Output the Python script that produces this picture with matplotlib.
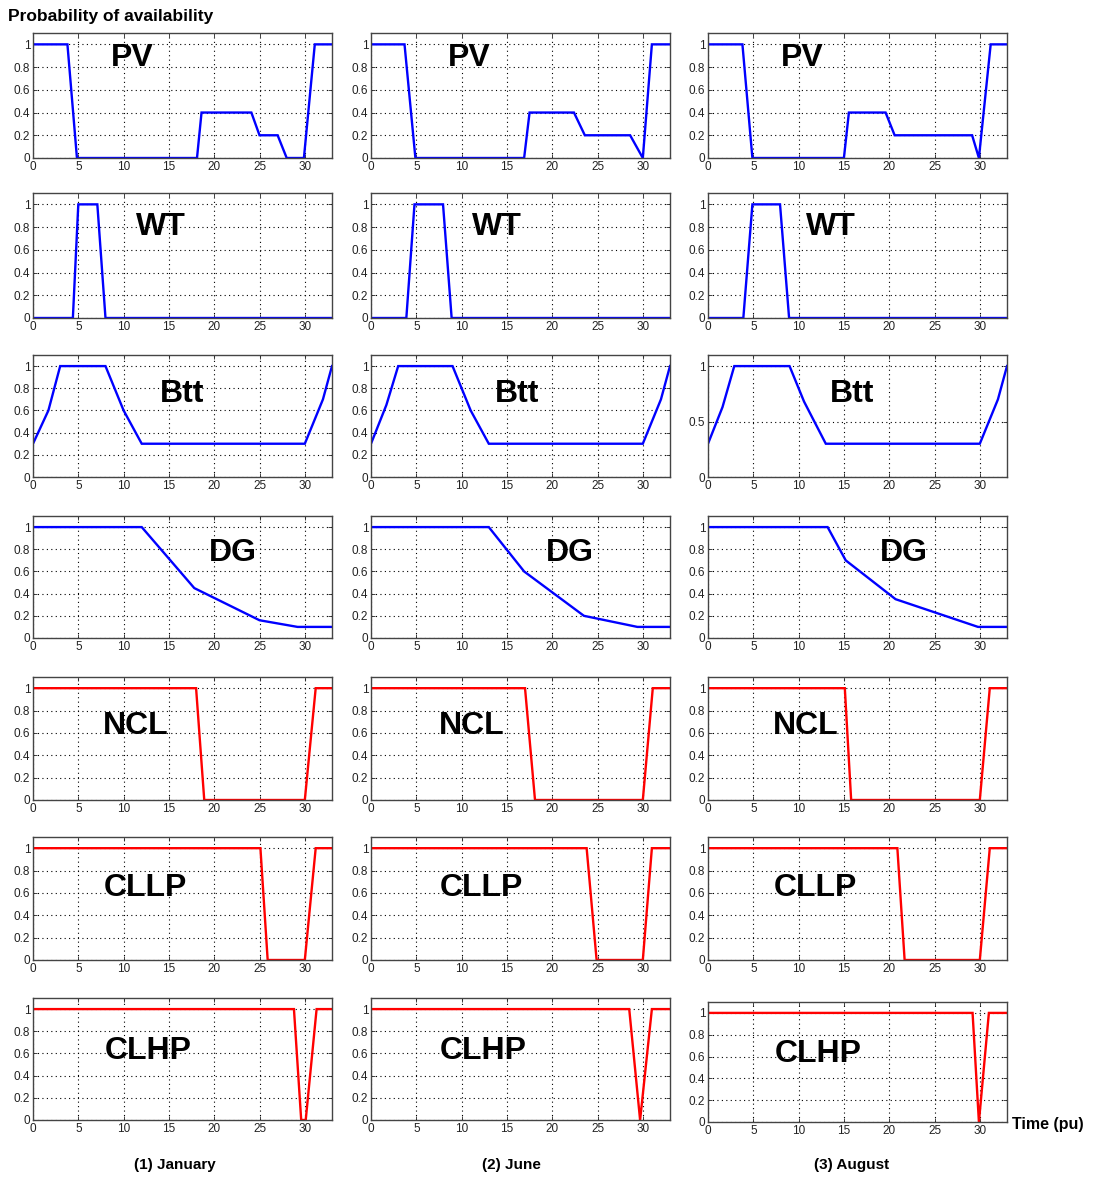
import matplotlib
matplotlib.use("Agg")
import matplotlib.pyplot as plt
import numpy as np

plt.rcParams['font.family'] = ['Liberation Sans', 'DejaVu Sans']

W, H = 1095, 1178

MONTHS = ['(1) January', '(2) June', '(3) August']
SOURCES = ['PV', 'WT', 'Btt', 'DG', 'NCL', 'CLLP', 'CLHP']

# breakpoints of each availability curve (time in pu, probability)
PV_JAN_T = [0, 3.8, 4.85, 18.1, 18.6, 24.1, 25.0, 27.0, 28.0, 29.9, 31.1, 33]
PV_JAN_P = [1, 1, 0, 0, 0.4, 0.4, 0.2, 0.2, 0, 0, 1, 1]
PV_JUN_T = [0, 3.7, 4.9, 16.9, 17.5, 22.4, 23.6, 28.6, 30.0, 31.0, 33]
PV_JUN_P = [1, 1, 0, 0, 0.4, 0.4, 0.2, 0.2, 0, 1, 1]
PV_AUG_T = [0, 3.8, 4.9, 15.0, 15.55, 19.6, 20.6, 29.15, 29.9, 31.2, 33]
PV_AUG_P = [1, 1, 0, 0, 0.4, 0.4, 0.2, 0.2, 0, 1, 1]

WT_JAN_T = [0, 4.4, 5.0, 7.1, 8.0, 33]
WT_JAN_P = [0, 0, 1, 1, 0, 0]
WT_JUN_T = [0, 3.9, 4.8, 7.95, 8.9, 33]
WT_JUN_P = [0, 0, 1, 1, 0, 0]
WT_AUG_T = [0, 3.9, 4.9, 7.95, 8.95, 33]
WT_AUG_P = [0, 0, 1, 1, 0, 0]

BTT_JAN_T = [0, 1.7, 3.0, 8.0, 10.0, 12.0, 30.0, 32.0, 33]
BTT_JAN_P = [0.3, 0.6, 1, 1, 0.6, 0.3, 0.3, 0.7, 1]
BTT_JUN_T = [0, 1.7, 3.0, 9.0, 11.0, 13.0, 30.0, 32.0, 33]
BTT_JUN_P = [0.3, 0.65, 1, 1, 0.6, 0.3, 0.3, 0.7, 1]
BTT_AUG_T = [0, 1.6, 2.9, 9.0, 10.6, 13.0, 30.0, 32.0, 33]
BTT_AUG_P = [0.3, 0.63, 1, 1, 0.68, 0.3, 0.3, 0.7, 1]

DG_JAN_T = [0, 12.0, 17.8, 25.0, 29.2, 33]
DG_JAN_P = [1, 1, 0.45, 0.16, 0.1, 0.1]
DG_JUN_T = [0, 13.0, 16.9, 23.5, 29.4, 33]
DG_JUN_P = [1, 1, 0.6, 0.2, 0.1, 0.1]
DG_AUG_T = [0, 13.2, 15.2, 20.7, 29.8, 33]
DG_AUG_P = [1, 1, 0.7, 0.35, 0.1, 0.1]

NCL_JAN_T = [0, 18.0, 18.9, 30.0, 31.2, 33]
NCL_JAN_P = [1, 1, 0, 0, 1, 1]
NCL_JUN_T = [0, 17.0, 18.1, 30.0, 31.1, 33]
NCL_JUN_P = [1, 1, 0, 0, 1, 1]
NCL_AUG_T = [0, 15.1, 15.8, 30.0, 31.1, 33]
NCL_AUG_P = [1, 1, 0, 0, 1, 1]

CLLP_JAN_T = [0, 25.1, 25.9, 30.0, 31.2, 33]
CLLP_JAN_P = [1, 1, 0, 0, 1, 1]
CLLP_JUN_T = [0, 23.8, 24.9, 30.0, 31.0, 33]
CLLP_JUN_P = [1, 1, 0, 0, 1, 1]
CLLP_AUG_T = [0, 20.9, 21.7, 30.0, 31.1, 33]
CLLP_AUG_P = [1, 1, 0, 0, 1, 1]

CLHP_JAN_T = [0, 28.8, 29.6, 30.1, 31.3, 33]
CLHP_JAN_P = [1, 1, 0, 0, 1, 1]
CLHP_JUN_T = [0, 28.5, 29.7, 31.0, 33]
CLHP_JUN_P = [1, 1, 0, 1, 1]
CLHP_AUG_T = [0, 29.2, 29.9, 31.0, 33]
CLHP_AUG_P = [1, 1, 0, 1, 1]

CURVES = [
    [(PV_JAN_T, PV_JAN_P), (PV_JUN_T, PV_JUN_P), (PV_AUG_T, PV_AUG_P)],
    [(WT_JAN_T, WT_JAN_P), (WT_JUN_T, WT_JUN_P), (WT_AUG_T, WT_AUG_P)],
    [(BTT_JAN_T, BTT_JAN_P), (BTT_JUN_T, BTT_JUN_P), (BTT_AUG_T, BTT_AUG_P)],
    [(DG_JAN_T, DG_JAN_P), (DG_JUN_T, DG_JUN_P), (DG_AUG_T, DG_AUG_P)],
    [(NCL_JAN_T, NCL_JAN_P), (NCL_JUN_T, NCL_JUN_P), (NCL_AUG_T, NCL_AUG_P)],
    [(CLLP_JAN_T, CLLP_JAN_P), (CLLP_JUN_T, CLLP_JUN_P), (CLLP_AUG_T, CLLP_AUG_P)],
    [(CLHP_JAN_T, CLHP_JAN_P), (CLHP_JUN_T, CLHP_JUN_P), (CLHP_AUG_T, CLHP_AUG_P)],
]

X_TICKS = [0, 5, 10, 15, 20, 25, 30]
Y_TICKS = [0, 0.2, 0.4, 0.6, 0.8, 1]
Y_LABELS = ['0', '0.2', '0.4', '0.6', '0.8', '1']

# layout in pixels (left, right) per column and (top, bottom) per row
COL_X = [(33, 332), (371, 670), (708, 1007)]
ROW_Y = [(33, 158), (193, 318), (355, 477), (516, 638),
         (677, 800), (837, 960), (998, 1120)]
# where the source name sits inside each row (x per column, y)
LABEL_X = [[11.0, 10.8, 10.4], [14.1, 13.9, 13.6], [16.4, 16.1, 15.9],
           [22.1, 21.9, 21.6], [11.3, 11.1, 10.8], [12.4, 12.2, 11.9],
           [12.7, 12.4, 12.2]]
LABEL_Y = [0.88, 0.80, 0.75, 0.77, 0.66, 0.64, 0.62]

fig = plt.figure(figsize=(W / 100, H / 100), dpi=100)
fig.patch.set_facecolor('white')

for r, name in enumerate(SOURCES):
    color = 'blue' if r < 4 else 'red'
    for c in range(3):
        x0, x1 = COL_X[c]
        y0, y1 = ROW_Y[r]
        if r == 6 and c == 2:
            y0, y1 = 1002, 1122
        ax = fig.add_axes([x0 / W, 1 - y1 / H, (x1 - x0) / W, (y1 - y0) / H])
        t, p = CURVES[r][c]
        ax.plot(t, p, color=color, lw=1.7, solid_joinstyle='miter')
        ax.set_xlim(0, 33)
        ax.set_ylim(0, 1.1)
        ax.set_xticks(X_TICKS)
        ax.set_xticklabels([str(v) for v in X_TICKS])
        if r == 2 and c == 2:
            ax.set_yticks([0, 0.5, 1])
            ax.set_yticklabels(['0', '0.5', '1'])
        else:
            ax.set_yticks(Y_TICKS)
            ax.set_yticklabels(Y_LABELS)
        ax.grid(True, color='black', linestyle=(0, (1, 3)), linewidth=0.8)
        ax.tick_params(direction='in', length=3, width=0.6, labelsize=8.5,
                       pad=2, colors='#222222', top=True, right=True)
        for s in ax.spines.values():
            s.set_color('#444444')
            s.set_linewidth(1.0)
        ax.text(LABEL_X[r][c], LABEL_Y[r], name, fontsize=23,
                fontweight='bold', ha='center', va='center', color='black')

fig.text(8 / W, 1 - 16 / H, 'Probability of availability', fontsize=12.5,
         fontweight='bold', ha='left', va='center')
for c, label in enumerate(MONTHS):
    cx = [175, 511, 852][c]
    fig.text(cx / W, 1 - 1165 / H, label, fontsize=11, fontweight='bold',
             ha='center', va='center')
fig.text(1012 / W, 1 - 1125 / H, 'Time (pu)', fontsize=11.5,
         fontweight='bold', ha='left', va='center')

fig.savefig('out.png', dpi=100)
